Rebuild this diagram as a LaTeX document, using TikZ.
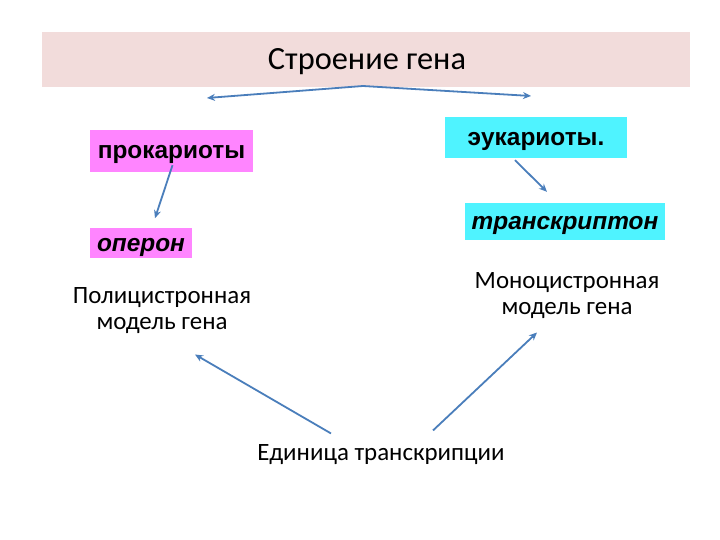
\documentclass[tikz,border=0pt]{standalone}
\usepackage{fontspec}
\setmainfont{Carlito}
\newfontfamily\arialfont{Liberation Sans}
\usepackage{xcolor}
\usetikzlibrary{arrows.meta,positioning}
\definecolor{bannerpink}{HTML}{F2DCDB}
\definecolor{prokpink}{HTML}{FF85FF}
\definecolor{eukcyan}{HTML}{4FF3FF}
\definecolor{arrblue}{HTML}{4A7EBB}
\tikzset{
  kbox/.style={inner xsep=7bp, inner ysep=0bp, minimum height=#1, text height=17bp, text depth=1bp, font=\arialfont\bfseries\fontsize{24.5}{26}\selectfont},
  kboxit/.style={kbox=#1, font=\arialfont\bfseries\itshape\fontsize{24.5}{26}\selectfont},
  lbl/.style={align=center, font=\fontsize{25}{26}\selectfont},
  farr/.style={-{Stealth[length=8bp,width=7bp]}, draw=arrblue, line width=1.8bp}
}

\begin{document}
\begin{tikzpicture}[x=1bp,y=-1bp]
\useasboundingbox[fill=white] (0,0) rectangle (720,540);
\fill[bannerpink] (42,32) rectangle (690,87);
\node[font=\fontsize{32.5}{34}\selectfont] (title) at (367,62) {Строение гена};
\coordinate (apex) at (363,86);
\coordinate (ltip) at (207,98);
\coordinate (rtip) at (531,96);
\node[kbox=42bp, fill=prokpink, minimum width=163bp] (prok) at (171.5,151) {прокариоты};
\node[kboxit=30bp, fill=prokpink, minimum width=102bp, below=56bp of prok.south west, anchor=north west] (oper) {оперон};
\node[kbox=41bp, fill=eukcyan, minimum width=182bp] (euk) at (536,137.5) {эукариоты.};
\node[kboxit=37bp, fill=eukcyan, minimum width=200bp] (trans) at (565,221.5) {транскриптон};
\node[lbl] (poly) at (162,311) {Полицистронная\\модель гена};
\node[lbl] (mono) at (567,296) {Моноцистронная\\модель гена};
\node[lbl] (unit) at (381,455) {Единица транскрипции};
\draw[farr] (apex) -- (ltip); \draw[farr] (apex) -- (rtip);
\draw[farr] ([xshift=1bp,yshift=7bp]prok.south) -- ([xshift=14bp,yshift=10bp]oper.north);
\draw[farr] ([xshift=-21bp,yshift=-2bp]euk.south) -- ([xshift=-18bp,yshift=11bp]trans.north);
\draw[farr] ([xshift=-50bp,yshift=8bp]unit.north) -- ([xshift=33bp,yshift=-17bp]poly.south);
\draw[farr] ([xshift=52bp,yshift=11bp]unit.north) -- ([xshift=-30bp,yshift=-10bp]mono.south);
\end{tikzpicture}
\end{document}
